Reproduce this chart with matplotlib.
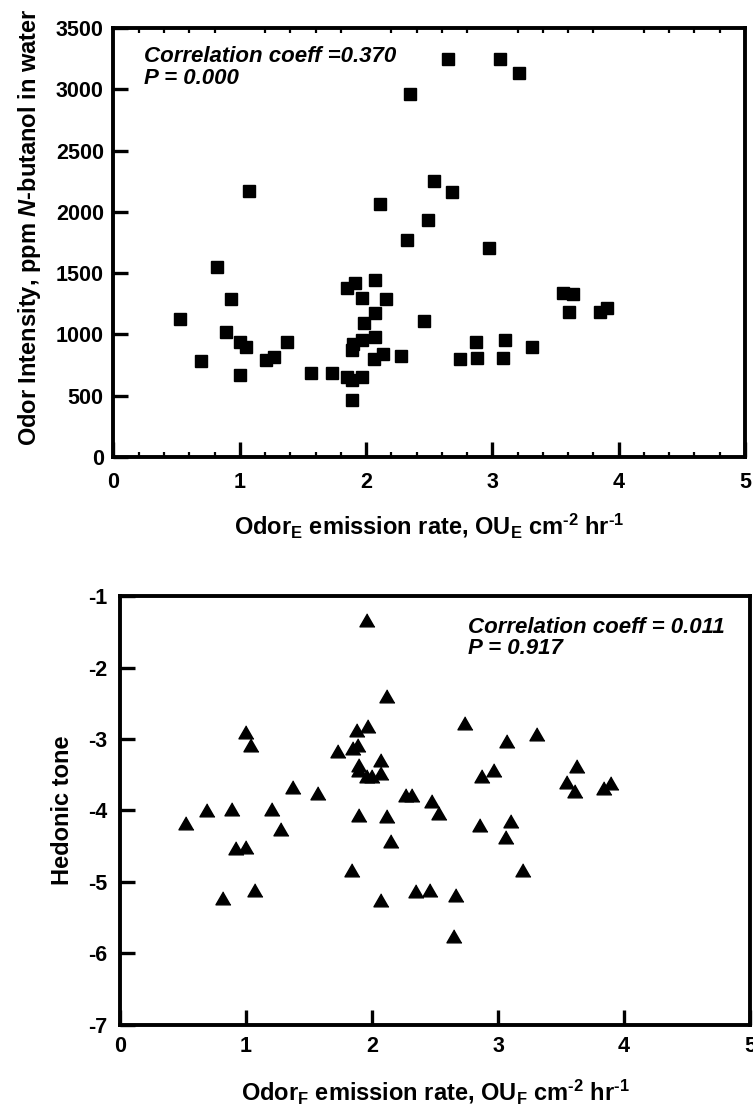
"""Odor intensity and hedonic tone vs. odor emission rate (two stacked scatter panels)."""

import matplotlib

matplotlib.use("Agg")
import matplotlib.pyplot as plt
from matplotlib.ticker import MultipleLocator

plt.rcParams["font.family"] = ["Liberation Sans", "DejaVu Sans"]
plt.rcParams["font.weight"] = "bold"
plt.rcParams["axes.unicode_minus"] = False
plt.rcParams["mathtext.fontset"] = "custom"
plt.rcParams["mathtext.rm"] = "Liberation Sans:bold"
plt.rcParams["mathtext.bf"] = "Liberation Sans:bold"
plt.rcParams["mathtext.it"] = "Liberation Sans:bold:italic"
plt.rcParams["mathtext.default"] = "rm"

# top panel: emission rate vs odor intensity (ppm n-butanol)
emission_top = [0.53, 0.69, 0.82, 0.89, 0.93, 1.00, 1.00, 1.05, 1.07, 1.21, 1.27, 1.37,
                1.56, 1.73, 1.85, 1.85, 1.89, 1.89, 1.90, 1.89, 1.91, 1.97, 1.98, 1.97,
                1.97, 2.07, 2.07, 2.07, 2.06, 2.11, 2.13, 2.16, 2.28, 2.32, 2.35, 2.46,
                2.49, 2.54, 2.65, 2.68, 2.74, 2.87, 2.88, 2.97, 3.06, 3.08, 3.10, 3.21,
                3.31, 3.56, 3.64, 3.61, 3.85, 3.91]
intensity = [1126, 783, 1550, 1020, 1289, 938, 669, 897, 2170, 791, 816, 938,
             685, 685, 1379, 653, 630, 465, 920, 870, 1420, 1297, 1093, 955,
             653, 1444, 1175, 979, 800, 2064, 840, 1289, 824, 1770, 2961, 1110,
             1934, 2252, 3247, 2162, 800, 938, 808, 1705, 3247, 808, 955, 3133,
             897, 1338, 1333, 1183, 1183, 1215]

# bottom panel: emission rate vs hedonic tone
emission_bot = [0.52, 0.69, 0.82, 0.89, 0.92, 1.00, 1.00, 1.04, 1.07, 1.21, 1.28, 1.37,
                1.57, 1.73, 1.84, 1.85, 1.88, 1.89, 1.90, 1.90, 1.90, 1.96, 1.97, 1.96,
                2.00, 2.07, 2.07, 2.07, 2.12, 2.12, 2.15, 2.27, 2.32, 2.35, 2.46, 2.48,
                2.53, 2.65, 2.67, 2.74, 2.86, 2.87, 2.97, 3.06, 3.07, 3.10, 3.20, 3.31,
                3.55, 3.61, 3.63, 3.84, 3.90]
hedonic = [-4.20, -4.02, -5.25, -4.01, -4.55, -4.54, -2.93, -3.11, -5.14, -4.01, -4.29, -3.70,
           -3.78, -3.20, -4.86, -3.15, -2.90, -3.11, -3.39, -3.46, -4.09, -1.36, -2.85, -3.55,
           -3.55, -3.32, -3.50, -5.28, -2.43, -4.10, -4.46, -3.81, -3.81, -5.16, -5.14, -3.90,
           -4.06, -5.78, -5.21, -2.80, -4.23, -3.54, -3.46, -4.40, -3.05, -4.18, -4.86, -2.96,
           -3.63, -3.75, -3.41, -3.71, -3.64]

x_ticks = [0, 1, 2, 3, 4, 5]
top_yticks = [0, 500, 1000, 1500, 2000, 2500, 3000, 3500]
bot_yticks = [-1, -2, -3, -4, -5, -6, -7]

SPINE_W = 2.8
TICK_FS = 15.5
LABEL_FS = 17
NOTE_FS = 16


def style_axes(ax):
    for side in ("left", "bottom", "top", "right"):
        ax.spines[side].set_linewidth(SPINE_W)
    ax.tick_params(which="major", direction="in", length=10.5, width=2.4,
                   labelsize=TICK_FS, top=False, right=False)
    for lab in ax.get_xticklabels() + ax.get_yticklabels():
        lab.set_fontweight("bold")


fig = plt.figure(figsize=(7.53, 11.07), dpi=100)

# --- top panel
ax1 = fig.add_axes([0.1507, 0.5872, 0.9894 - 0.1507, 0.9747 - 0.5872])
ax1.plot(emission_top, intensity, "s", color="black", markersize=9, linestyle="none")
ax1.set_xlim(0, 5)
ax1.set_ylim(0, 3500)
ax1.set_xticks(x_ticks)
ax1.set_yticks(top_yticks)
ax1.xaxis.set_minor_locator(MultipleLocator(0.2))
style_axes(ax1)
ax1.tick_params(axis="x", which="major", pad=11)
ax1.tick_params(axis="y", which="major", pad=7)
ax1.tick_params(axis="x", which="minor", direction="in", length=3.5, width=1.6,
                top=True, bottom=True)
ax1.set_xlabel(r"Odor$_{E}$ emission rate, OU$_{E}$ cm$^{\text{-2}}$ hr$^{\text{-1}}$",
               fontsize=LABEL_FS, fontweight="bold", labelpad=13)
ax1.set_ylabel(r"Odor Intensity, ppm $\mathit{N}$-butanol in water",
               fontsize=LABEL_FS, fontweight="bold")
ax1.yaxis.set_label_coords(-0.112, 0.535)
ax1.text(0.048, 0.958, "Correlation coeff =0.370\nP = 0.000", transform=ax1.transAxes,
         fontsize=NOTE_FS, fontweight="bold", fontstyle="italic", va="top", ha="left",
         linespacing=1.05)

# --- bottom panel: equilateral triangle marker
tri = [(0, 0.577), (-0.5, -0.289), (0.5, -0.289)]
ax2 = fig.add_axes([0.1594, 0.0741, 0.996 - 0.1594, 0.4616 - 0.0741])
ax2.plot(emission_bot, hedonic, marker=tri, color="black", markersize=12.5, linestyle="none")
ax2.set_xlim(0, 5)
ax2.set_ylim(-7, -1)
ax2.set_xticks(x_ticks)
ax2.set_yticks(bot_yticks)
style_axes(ax2)
ax2.tick_params(axis="x", which="major", pad=8)
ax2.tick_params(axis="y", which="major", pad=9)
ax2.set_xlabel(r"Odor$_{F}$ emission rate, OU$_{F}$ cm$^{\text{-2}}$ hr$^{\text{-1}}$",
               fontsize=LABEL_FS, fontweight="bold", labelpad=14)
ax2.set_ylabel("Hedonic tone", fontsize=LABEL_FS, fontweight="bold", labelpad=10)
ax2.text(0.552, 0.952, "Correlation coeff = 0.011\nP = 0.917", transform=ax2.transAxes,
         fontsize=NOTE_FS, fontweight="bold", fontstyle="italic", va="top", ha="left",
         linespacing=1.05)

fig.savefig("out.png", dpi=100)
plt.close(fig)
